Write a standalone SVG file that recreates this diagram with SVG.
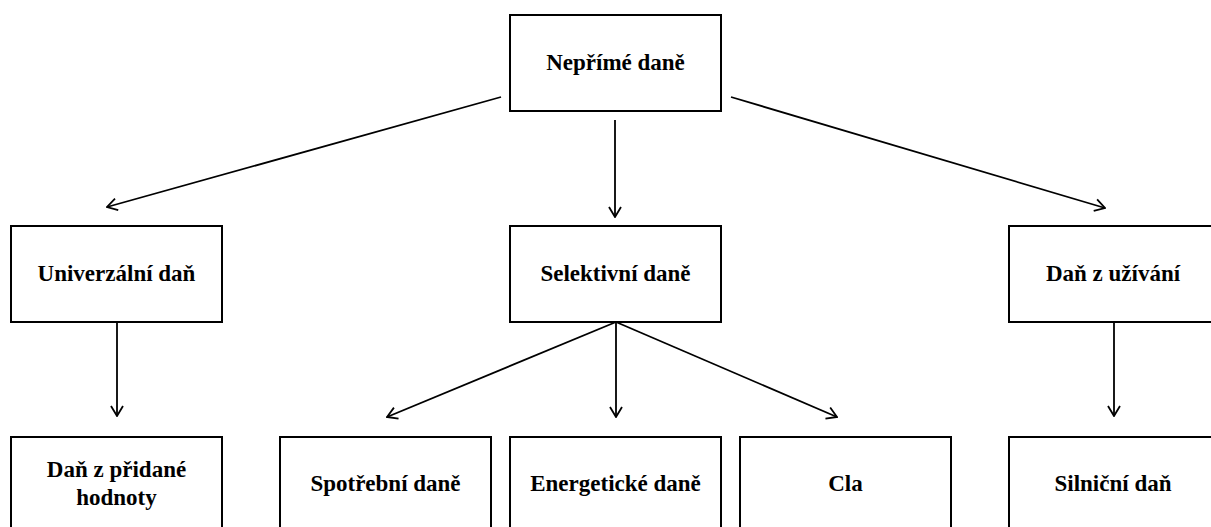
<svg xmlns="http://www.w3.org/2000/svg" width="1211" height="527" viewBox="0 0 1211 527">
<defs>
<marker id="ah" viewBox="0 0 12 14" refX="11" refY="7" markerWidth="12" markerHeight="14" markerUnits="userSpaceOnUse" orient="auto">
<path d="M1,1 L11,7 L1,13" fill="none" stroke="#000" stroke-width="1.8"/>
</marker>
<style>
.box{fill:#fff;stroke:#000;stroke-width:2}
.lbl{font-family:"Liberation Serif","Times New Roman",serif;font-weight:bold;font-size:23px;fill:#000;text-anchor:middle}
.con{stroke:#000;stroke-width:1.8;fill:none;marker-end:url(#ah)}
</style>
</defs>
<rect width="1211" height="527" fill="#fff"/>
<g id="connectors">
<line class="con" x1="501" y1="97" x2="107" y2="207"/>
<line class="con" x1="615" y1="120" x2="615" y2="217"/>
<line class="con" x1="731" y1="97" x2="1105" y2="208"/>
<line class="con" x1="117" y1="323" x2="117" y2="416"/>
<line class="con" x1="616" y1="322" x2="387" y2="417"/>
<line class="con" x1="616" y1="322" x2="616" y2="417"/>
<line class="con" x1="616" y1="322" x2="837" y2="417"/>
<line class="con" x1="1114" y1="323" x2="1114" y2="416"/>
</g>
<g id="n-neprime">
<rect class="box" x="510" y="15" width="211" height="96"/>
<text class="lbl" x="615.5" y="70">Nepřímé daně</text>
</g>
<g id="n-univerzalni">
<rect class="box" x="11" y="226" width="211" height="96"/>
<text class="lbl" x="116.5" y="281">Univerzální daň</text>
</g>
<g id="n-selektivni">
<rect class="box" x="510" y="226" width="211" height="96"/>
<text class="lbl" x="615.5" y="281">Selektivní daně</text>
</g>
<g id="n-uzivani">
<rect class="box" x="1009" y="226" width="211" height="96"/>
<text class="lbl" x="1113" y="281">Daň z užívání</text>
</g>
<g id="n-dph">
<rect class="box" x="11" y="437" width="211" height="96"/>
<text class="lbl" x="116.5" y="477">Daň z přidané</text>
<text class="lbl" x="116.5" y="505">hodnoty</text>
</g>
<g id="n-spotrebni">
<rect class="box" x="280" y="437" width="211" height="96"/>
<text class="lbl" x="385.5" y="491">Spotřební daně</text>
</g>
<g id="n-energeticke">
<rect class="box" x="510" y="437" width="211" height="96"/>
<text class="lbl" x="615.5" y="491">Energetické daně</text>
</g>
<g id="n-cla">
<rect class="box" x="740" y="437" width="211" height="96"/>
<text class="lbl" x="845.5" y="491">Cla</text>
</g>
<g id="n-silnicni">
<rect class="box" x="1009" y="437" width="211" height="96"/>
<text class="lbl" x="1113" y="491">Silniční daň</text>
</g>
</svg>
